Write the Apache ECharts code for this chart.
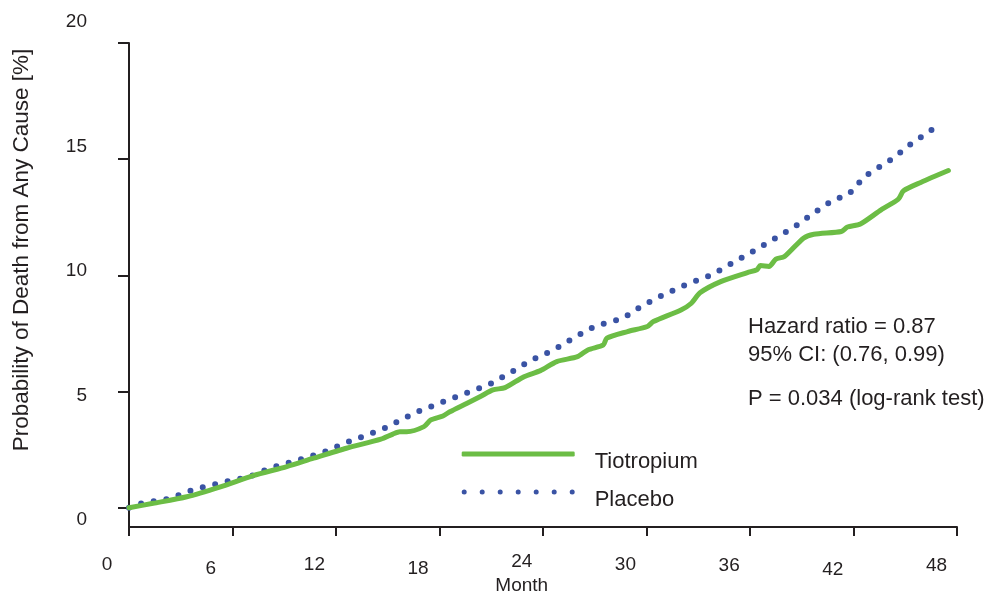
<!DOCTYPE html>
<html>
<head>
<meta charset="utf-8">
<script src="https://cdn.jsdelivr.net/npm/echarts@6/dist/echarts.min.js"></script>
<style>
  html, body { margin: 0; padding: 0; background: #fff; }
  #chart { width: 997px; height: 600px; }
</style>
</head>
<body>
<div id="chart"></div>
<script>
// data: [month, cumulative probability %]
const tiotropium = [
  [0, 0], [1.4, 0.19], [3.35, 0.47], [5.3, 0.9], [7.2, 1.38], [9.15, 1.77],
  [10.7, 2.13], [12.6, 2.56], [14.6, 2.95], [15.3, 3.17], [15.7, 3.27], [16.1, 3.27],
  [17.1, 3.49], [17.5, 3.78], [18.2, 3.95], [18.6, 4.13], [19.6, 4.5], [20.4, 4.8],
  [21.1, 5.07], [21.8, 5.17], [22.9, 5.64], [23.85, 5.9], [24.8, 6.29], [26.0, 6.5],
  [26.6, 6.79], [27.5, 7.01], [27.7, 7.3], [28.9, 7.58], [30.05, 7.8], [30.4, 8.01],
  [32.0, 8.51], [32.6, 8.8], [33.1, 9.25], [34.3, 9.73], [35.85, 10.12], [36.4, 10.24],
  [36.6, 10.42], [37.1, 10.38], [37.5, 10.7], [38.0, 10.81], [39.1, 11.6], [39.7, 11.77],
  [41.3, 11.89], [41.65, 12.08], [42.4, 12.21], [43.6, 12.82], [44.6, 13.28], [44.9, 13.64],
  [45.9, 14.0], [47.5, 14.51]
];
const placebo = [
  [0, 0], [0.74, 0.19], [2.34, 0.39], [3.75, 0.78], [5.34, 1.08], [6.89, 1.31],
  [8.32, 1.74], [9.83, 2.05], [11.28, 2.39], [12.65, 2.82], [13.35, 3.01], [14.74, 3.39],
  [16.66, 4.11], [18.75, 4.71], [20.88, 5.3], [22.15, 5.83], [23.31, 6.35], [24.63, 6.79],
  [25.84, 7.34], [27.06, 7.83], [28.61, 8.14], [29.76, 8.7], [31.05, 9.19], [32.37, 9.63],
  [33.76, 10.01], [35.0, 10.54], [36.2, 11.04], [37.39, 11.56], [38.64, 12.12], [39.72, 12.7],
  [40.84, 13.25], [41.63, 13.45], [42.12, 13.77], [42.53, 14.2], [43.08, 14.47], [44.27, 15.03],
  [45.31, 15.65], [46.49, 16.24], [47.11, 16.48]
];
const seriesNames = ['Tiotropium', 'Placebo'];
const monthTicks = [0, 6, 12, 18, 24, 30, 36, 42, 48];
const percentTicks = [0, 5, 10, 15, 20];
const statsLines = ['Hazard ratio = 0.87', '95% CI: (0.76, 0.99)', 'P = 0.034 (log-rank test)'];

const ink = '#231f20';
const font = "'Liberation Sans', Arial, sans-serif";
// small vertical nudges of the month labels, as printed (box height kept constant)
const xLabelNudge = [3, 7, 3, 7, 0, 3, 4, 8, 4];
const xRich = {};
xLabelNudge.forEach((n, i) => {
  xRich['m' + i] = { fontSize: 19, fontFamily: font, color: ink, padding: [n, 0, 10 - n, 0] };
});

// placebo legend icon: a row of seven dots (box 113 x 5)
let dots = '';
for (let k = 0; k < 7; k++) {
  const cx = 2.5 + k * 18;
  dots += `M${cx - 2.5},2.5 A2.5,2.5 0 1 0 ${cx + 2.5},2.5 A2.5,2.5 0 1 0 ${cx - 2.5},2.5 Z `;
}

const chart = echarts.init(document.getElementById('chart'));
const option = {
  backgroundColor: '#fff',
  animation: false,
  grid: [
    { left: 129, right: 40, top: 43, bottom: 73 },      // plot
    { left: 95, width: 1, top: 21.7, bottom: 80 },      // y tick labels
    { left: 107, right: 60.5, top: 43, bottom: 73 }     // x tick labels
  ],
  xAxis: [
    {
      gridIndex: 0, type: 'value', min: 0, max: 48, interval: 6,
      axisLine: { show: true, onZero: false, lineStyle: { color: ink, width: 2 } },
      axisTick: { show: true, length: 9, lineStyle: { color: ink, width: 2 } },
      axisLabel: { show: false },
      splitLine: { show: false }
    },
    {
      gridIndex: 1, type: 'value', min: 0, max: 1, show: false
    },
    {
      gridIndex: 2, type: 'value', min: 0, max: 48, interval: 6,
      axisLine: { show: false, onZero: false }, axisTick: { show: false }, splitLine: { show: false },
      axisLabel: {
        margin: 34,
        formatter: (v) => {
          const i = monthTicks.indexOf(v);
          return i < 0 ? '' : '{m' + i + '|' + v + '}';
        },
        rich: xRich
      },
      name: 'Month', nameLocation: 'middle', nameGap: 58, nameMoveOverlap: false,
      nameTextStyle: { fontSize: 19, fontFamily: font, color: ink }
    }
  ],
  yAxis: [
    {
      gridIndex: 0, type: 'value', min: -0.83, max: 20,
      axisLine: { show: true, onZero: false, lineStyle: { color: ink, width: 2 } },
      axisTick: { show: true, length: 11, customValues: percentTicks, lineStyle: { color: ink, width: 2 } },
      axisLabel: { show: false, customValues: percentTicks },
      splitLine: { show: false }
    },
    {
      gridIndex: 1, type: 'value', min: 0, max: 20, interval: 5,
      axisLine: { show: false }, axisTick: { show: false }, splitLine: { show: false },
      axisLabel: { margin: 8, fontSize: 19, fontFamily: font, color: ink }
    },
    {
      gridIndex: 2, type: 'value', min: 0, max: 1, show: false
    }
  ],
  legend: {
    orient: 'vertical',
    left: 461.7, top: 451, padding: 0,
    itemWidth: 113, itemHeight: 5, itemGap: 16,
    formatter: '{t|{name}}',
    textStyle: {
      fontSize: 22, fontFamily: font, color: ink,
      rich: { t: { fontSize: 22, fontFamily: font, color: ink, padding: [16, 0, 0, 15] } }
    },
    data: [
      { name: seriesNames[0], icon: 'roundRect' },
      { name: seriesNames[1], icon: 'path://' + dots }
    ]
  },
  graphic: [
    {
      type: 'text', x: 22, y: 250, rotation: Math.PI / 2,
      style: {
        text: 'Probability of Death from Any Cause [%]',
        fontSize: 22.5, fontFamily: font, fill: ink, align: 'center', verticalAlign: 'middle'
      }
    },
    ...statsLines.map((t, i) => ({
      type: 'text', x: 748, y: [327.3, 355, 399.3][i],
      style: { text: t, fontSize: 22, fontFamily: font, fill: ink, verticalAlign: 'middle' }
    }))
  ],
  series: [
    {
      name: seriesNames[1], type: 'line', xAxisIndex: 0, yAxisIndex: 0,
      data: placebo, showSymbol: false, smooth: false,
      itemStyle: { color: '#3a53a4' },
      lineStyle: { color: '#3a53a4', width: 6, type: [0, 12.8], cap: 'round' },
      z: 2
    },
    {
      name: seriesNames[0], type: 'line', xAxisIndex: 0, yAxisIndex: 0,
      data: tiotropium, showSymbol: false, smooth: 0.25,
      itemStyle: { color: '#6cbd45' },
      lineStyle: { color: '#6cbd45', width: 5, cap: 'round', join: 'round' },
      z: 3
    }
  ]
};
chart.setOption(option);
</script>
</body>
</html>
